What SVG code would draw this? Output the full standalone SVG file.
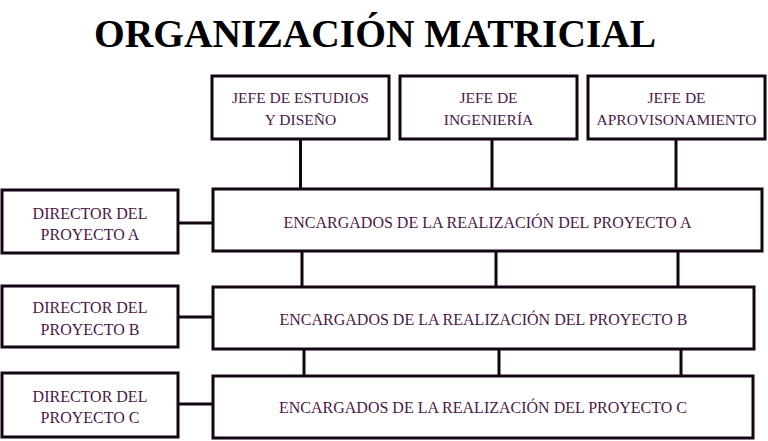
<svg xmlns="http://www.w3.org/2000/svg" width="768" height="441" viewBox="0 0 768 441">
<style>
.box{fill:#fff;stroke:#120612;stroke-width:3}
.t{font-family:"Liberation Serif","Times New Roman",serif;font-size:16px;fill:#4a1848;text-anchor:middle}
.tt{font-size:15.5px}
.c{stroke:#120612;stroke-width:3;fill:none}
</style>
<rect width="768" height="441" fill="#fff"/>
<text x="94" y="47" font-family="'Liberation Serif','Times New Roman',serif" font-weight="bold" font-size="39.5" fill="#000">ORGANIZACIÓN MATRICIAL</text>
<g id="connectors">
<path class="c" d="M300.5 139V189M492 139V189"/>
<path class="c" d="M676 139V189" stroke-width="2" stroke="#3a1638"/>
<path class="c" d="M178 223H213M178 317H213M178 404H213"/>
<path class="c" d="M302 251V287M496 251V287M678 251V287"/>
<path class="c" d="M304 349V376M499 349V376M681 349V376"/>
</g>
<g id="jefe-estudios">
<rect class="box" x="212" y="76" width="177" height="63" stroke-width="3.5"/>
<text class="t tt" x="300.5" y="103">JEFE DE ESTUDIOS</text>
<text class="t tt" x="300.5" y="125">Y DISEÑO</text>
</g>
<g id="jefe-ingenieria">
<rect class="box" x="400" y="76" width="177" height="63" stroke-width="3.5"/>
<text class="t tt" x="488.5" y="103">JEFE DE</text>
<text class="t tt" x="488.5" y="125">INGENIERÍA</text>
</g>
<g id="jefe-aprovisionamiento">
<rect class="box" x="588" y="76" width="177" height="63" stroke-width="3.5"/>
<text class="t tt" x="676.5" y="103">JEFE DE</text>
<text class="t tt" x="676.5" y="125">APROVISONAMIENTO</text>
</g>
<g id="director-a">
<rect class="box" x="2" y="190" width="176" height="63"/>
<text class="t" x="90" y="219">DIRECTOR DEL</text>
<text class="t" x="90" y="240">PROYECTO A</text>
</g>
<g id="encargados-a">
<rect class="box" x="213" y="189" width="549" height="62"/>
<text class="t" x="487.5" y="228">ENCARGADOS DE LA REALIZACIÓN DEL PROYECTO A</text>
</g>
<g id="director-b">
<rect class="box" x="2" y="286" width="176" height="61"/>
<text class="t" x="90" y="313">DIRECTOR DEL</text>
<text class="t" x="90" y="335">PROYECTO B</text>
</g>
<g id="encargados-b">
<rect class="box" x="213" y="287" width="541" height="62"/>
<text class="t" x="483.5" y="325">ENCARGADOS DE LA REALIZACIÓN DEL PROYECTO B</text>
</g>
<g id="director-c">
<rect class="box" x="2" y="373" width="176" height="64"/>
<text class="t" x="90" y="402">DIRECTOR DEL</text>
<text class="t" x="90" y="423">PROYECTO C</text>
</g>
<g id="encargados-c">
<rect class="box" x="213" y="376" width="540" height="62" stroke-width="3.5"/>
<text class="t" x="483" y="413">ENCARGADOS DE LA REALIZACIÓN DEL PROYECTO C</text>
</g>
</svg>
